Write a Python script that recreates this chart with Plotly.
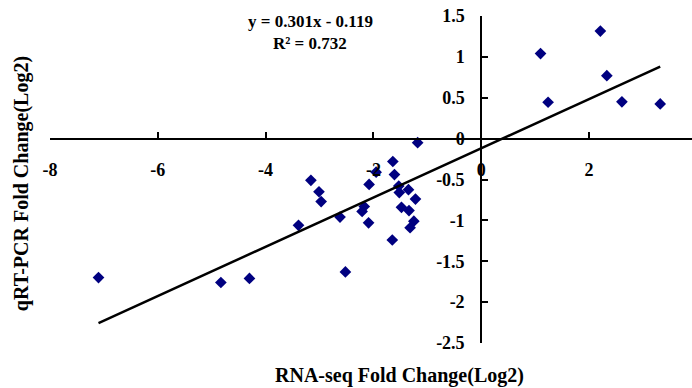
import plotly.graph_objects as go

# Data (log2 fold changes)
rna_seq = [-7.10, -4.83, -4.30, -3.39, -3.16, -3.01, -2.97, -2.62, -2.52, -2.21,
           -2.17, -2.09, -2.08, -1.95, -1.64, -1.61, -1.53, -1.52, -1.35, -1.22,
           -1.48, -1.34, -1.25, -1.32, -1.65, -1.18, 1.10, 2.21, 1.24, 2.33,
           2.61, 3.32]
qpcr = [-1.70, -1.76, -1.71, -1.06, -0.51, -0.65, -0.77, -0.96, -1.63, -0.89,
        -0.83, -1.03, -0.56, -0.41, -0.28, -0.44, -0.58, -0.66, -0.625, -0.74,
        -0.84, -0.88, -1.01, -1.09, -1.24, -0.05, 1.04, 1.315, 0.445, 0.77,
        0.45, 0.425]
slope = 0.301
intercept = -0.119
r2 = 0.732
x_ticks = [-8, -6, -4, -2, 0, 2, 4]
y_ticks = [-2.5, -2, -1.5, -1, -0.5, 0, 0.5, 1, 1.5]
x_range = [-8, 3.91]
y_range = [-2.5, 1.5]

fit_x = [min(rna_seq), max(rna_seq)]
fit_y = [slope * v + intercept for v in fit_x]

FONT = "Liberation Serif"

fig = go.Figure()
fig.add_trace(go.Scatter(
    x=rna_seq, y=qpcr, mode="markers",
    marker=dict(symbol="diamond", size=9, color="#000080"),
    showlegend=False, cliponaxis=False,
))
fig.add_trace(go.Scatter(
    x=fit_x, y=fit_y, mode="lines",
    line=dict(color="black", width=2.5),
    showlegend=False,
))

ann_common = dict(xref="paper", yref="paper", showarrow=False,
                  xanchor="center", yanchor="middle")

fig.update_layout(
    width=692, height=388,
    margin=dict(l=50, r=0, t=16, b=45),
    paper_bgcolor="white", plot_bgcolor="white",
    font=dict(family=FONT, color="black"),
    xaxis=dict(
        range=x_range, tickvals=x_ticks, ticktext=[str(v) for v in x_ticks],
        anchor="free", position=(0 - y_range[0]) / (y_range[1] - y_range[0]),
        showline=True, linecolor="black", linewidth=2,
        ticks="inside", ticklen=6, tickwidth=2, tickcolor="black",
        showgrid=False, zeroline=False,
        tickfont=dict(family=FONT, size=18, color="black", weight="bold"),
        ticklabelstandoff=15,
    ),
    yaxis=dict(
        range=y_range, tickvals=y_ticks, ticktext=[f"{v:g}" for v in y_ticks],
        anchor="free", position=(0 - x_range[0]) / (x_range[1] - x_range[0]),
        showline=True, linecolor="black", linewidth=2,
        ticks="inside", ticklen=6, tickwidth=2, tickcolor="black",
        showgrid=False, zeroline=False,
        tickfont=dict(family=FONT, size=18, color="black", weight="bold"),
        ticklabelstandoff=12,
    ),
    annotations=[
        dict(text="RNA-seq Fold Change(Log2)", x=0.545, y=-0.098,
             font=dict(family=FONT, size=20, color="black", weight="bold"),
             **ann_common),
        dict(text="qRT-PCR Fold Change(Log2)", x=-0.045, y=0.486, textangle=-90,
             font=dict(family=FONT, size=20, color="black", weight="bold"),
             **ann_common),
        dict(text=f"y = {slope}x - {abs(intercept)}", x=0.405, y=0.982,
             font=dict(family=FONT, size=17, color="black", weight="bold"),
             **ann_common),
        dict(text=f"R² = {r2}", x=0.405, y=0.917,
             font=dict(family=FONT, size=17, color="black", weight="bold"),
             **ann_common),
    ],
)

fig.write_html("out.html")
